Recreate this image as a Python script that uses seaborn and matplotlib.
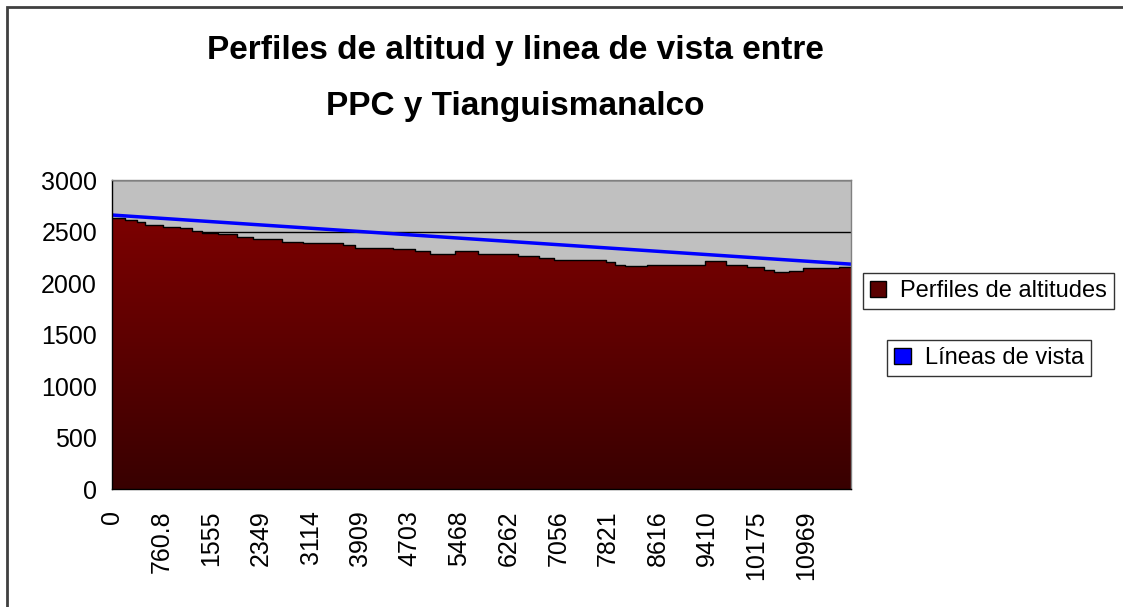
import numpy as np
import matplotlib
matplotlib.use("Agg")
import matplotlib.pyplot as plt
import seaborn as sns
from matplotlib.patches import Patch, Rectangle
from matplotlib.colors import LinearSegmentedColormap

# x axis: category index, labels every 10 categories
tick_pos = [0, 10, 20, 30, 40, 50, 60, 70, 80, 90, 100, 110, 120, 130, 140]
tick_labels = ['0', '760.8', '1555', '2349', '3114', '3909', '4703', '5468',
               '6262', '7056', '7821', '8616', '9410', '10175', '10969']
n_last = 149

# altitude profile breakpoints (category index, altitude m)
prof_idx = [0, 2.6, 4.9, 6.6, 10.3, 13.6, 16.0, 18.0, 21.4, 25.1, 28.4, 34.2,
            38.5, 46.6, 48.9, 56.7, 61.0, 64.1, 69.1, 73.7, 81.8, 86.2, 89.2,
            99.7, 101.4, 103.4, 107.8, 119.5, 123.9, 128.0, 131.6, 133.6,
            136.6, 139.3, 146.7, 149]
prof_alt = [2628, 2612, 2596, 2564, 2548, 2531, 2506, 2490, 2477, 2451, 2428,
            2402, 2393, 2370, 2345, 2328, 2312, 2280, 2315, 2283, 2264, 2241,
            2225, 2209, 2177, 2167, 2177, 2215, 2177, 2160, 2128, 2112,
            2120, 2150, 2160, 2160]

# line of sight
los_idx = [0, 149]
los_alt = [2660, 2184]

W, H = 1123, 607
sns.set_style("white")
plt.rcParams['font.family'] = ['Liberation Sans', 'DejaVu Sans']
plt.rcParams['text.color'] = 'black'
plt.rcParams['xtick.color'] = 'black'
plt.rcParams['ytick.color'] = 'black'

fig = plt.figure(figsize=(W / 100, H / 100), dpi=100)
ax = fig.add_axes([112.3 / W, (H - 489.3) / H, (850.7 - 112.3) / W, (489.3 - 180) / H])
ax.set_facecolor('#c0c0c0')

# chart area border
fig.patches.append(Rectangle((7 / W, -0.05), 1.2, (H - 7) / H + 0.05, transform=fig.transFigure,
                             fill=False, edgecolor='#404040', linewidth=2))

# gradient filled area for the profile
xs = list(prof_idx)
ys = list(prof_alt)
fill = ax.fill_between(xs, ys, 0, step='post', facecolor='none', edgecolor='none', zorder=2)
cmap = LinearSegmentedColormap.from_list('red_dark', ['#380000', '#7c0000'])
grad = np.linspace(0, 1, 256).reshape(-1, 1)
img = ax.imshow(grad, cmap=cmap, origin='lower', aspect='auto',
                extent=[0, n_last, 0, max(prof_alt)], zorder=2)
img.set_clip_path(fill.get_paths()[0], transform=ax.transData)
ax.step(xs, ys, where='post', color='black', linewidth=1.0, zorder=3)

sns.lineplot(x=los_idx, y=los_alt, ax=ax, color='#0000ff', linewidth=2.5, zorder=4)

ax.set_xlim(0, n_last)
ax.set_ylim(0, 3000)
ax.set_yticks(range(0, 3001, 500))
ax.set_xticks(tick_pos)
ax.set_xticklabels(tick_labels, rotation=90, fontsize=18)
ax.tick_params(axis='x', length=0, pad=15)
ax.tick_params(axis='y', length=7, width=1, color='black', direction='out', labelsize=18, pad=4)
ax.yaxis.grid(True, color='black', linewidth=1)
ax.set_axisbelow(True)
for side in ['top', 'right']:
    ax.spines[side].set_color('#808080')
for side in ['left', 'bottom']:
    ax.spines[side].set_color('black')
for s in ax.spines.values():
    s.set_linewidth(1)
    s.set_zorder(5)

fig.text(515 / W, 1 - 51 / H, 'Perfiles de altitud y linea de vista entre', ha='center', va='center',
         fontsize=24, fontweight='bold', color='black')
fig.text(515 / W, 1 - 106 / H, 'PPC y Tianguismanalco', ha='center', va='center',
         fontsize=24, fontweight='bold', color='black')

leg_kw = dict(loc='upper left', frameon=True, fancybox=False, fontsize=17, handlelength=0.7,
              handleheight=0.7, handletextpad=0.6, borderpad=0.3, borderaxespad=0)
l1 = fig.legend(handles=[Patch(facecolor='#5a0000', edgecolor='black')], labels=['Perfiles de altitudes'],
                bbox_to_anchor=(862.7 / W, 1 - 273.3 / H), **leg_kw)
l2 = fig.legend(handles=[Patch(facecolor='#0000ff', edgecolor='black')], labels=['Líneas de vista'],
                bbox_to_anchor=(887.3 / W, 1 - 340 / H), **leg_kw)
for lg in (l1, l2):
    lg.get_frame().set_edgecolor('black')
    lg.get_frame().set_linewidth(1)

fig.savefig('out.png', dpi=100)
